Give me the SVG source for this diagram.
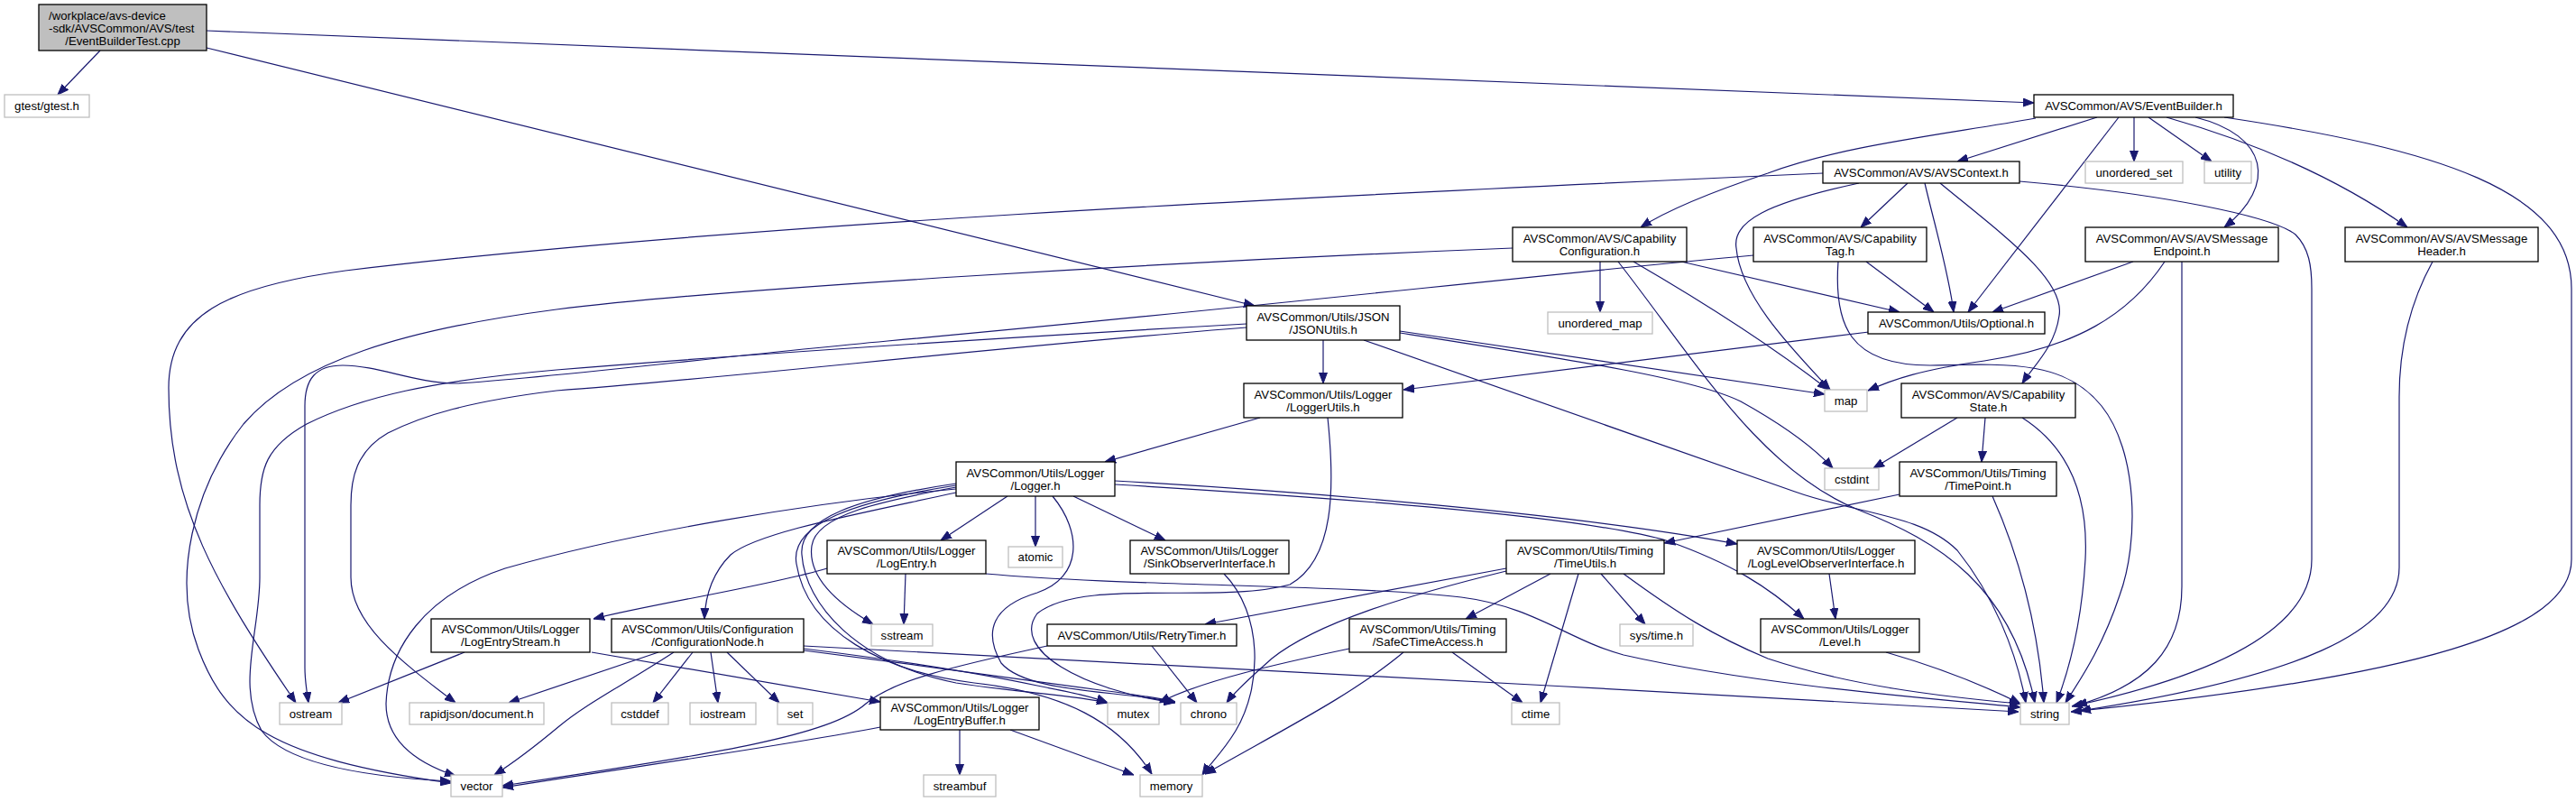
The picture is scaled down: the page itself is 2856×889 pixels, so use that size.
<svg xmlns="http://www.w3.org/2000/svg" width="2856" height="889" viewBox="0 0 2856 889">
<style>
rect{stroke-width:1.3}
.n rect{fill:#fff;stroke:#000}
.s rect{fill:#fff;stroke:#bfbfbf}
.m rect{fill:#bfbfbf;stroke:#000}
text{font-family:"Liberation Sans",Arial,sans-serif;font-size:13.2px;text-anchor:middle;fill:#000}
.l{text-anchor:start}
#edges path{fill:none;stroke:#191970;stroke-width:1.2;marker-end:url(#a)}
</style>
<defs>
<marker id="a" markerUnits="userSpaceOnUse" markerWidth="12" markerHeight="10" viewBox="0 0 12 10" refX="12" refY="5" orient="auto"><path d="M0,0.5 L12,5 L0,9.5 z" fill="#191970" stroke="#191970" stroke-width="1"/></marker>
</defs>
<rect x="0" y="0" width="2856" height="889" fill="#fff"/>
<g id="edges">
<path d="M111,56 L64,105"/>
<path d="M229,34 L2255,114"/>
<path d="M229,53 L1391,339"/>
<path d="M2325,130 L2170,179"/>
<path d="M2257,131 C2150,150 2040,162 1960,192 C1900,212 1850,232 1819,252"/>
<path d="M2349,130 L2182,346"/>
<path d="M2366,130 L2366,179"/>
<path d="M2382,130 L2452,179"/>
<path d="M2434,130 C2515,150 2525,205 2466,252"/>
<path d="M2402,130 Q2560,175 2669,252"/>
<path d="M2466,130 C2700,165 2851,210 2851,320 L2851,620 C2851,700 2680,750 2296,789"/>
<path d="M2021,192 C1400,220 800,250 383,300 C250,318 187,350 187,430 C187,560 240,650 328,779"/>
<path d="M2115,203 L2063,252"/>
<path d="M2134,203 C2145,250 2160,300 2166,346"/>
<path d="M2061,203 C1960,225 1920,245 1925,275 C1930,330 1990,390 2029,432"/>
<path d="M2151,203 C2220,260 2290,310 2283,350 C2278,385 2255,405 2242,425"/>
<path d="M2239,201 C2400,215 2520,240 2545,260 C2560,275 2563,295 2563,320 L2563,620 C2563,700 2450,750 2297,783"/>
<path d="M1774,290 L1774,346"/>
<path d="M1864,290 L2106,346"/>
<path d="M1811,290 C1880,330 1960,380 2027,432"/>
<path d="M1794,290 C1880,400 1950,520 2060,565 C2150,600 2230,650 2256,779"/>
<path d="M1677,275 C1300,290 800,320 617,343 C450,365 330,400 270,470 C215,540 190,640 220,720 C250,800 300,840 500,868"/>
<path d="M2069,290 L2144,346"/>
<path d="M2038,290 C2033,360 2050,405 2140,405 C2230,403 2290,400 2330,450 C2370,500 2372,600 2350,660 C2330,720 2305,755 2290,779"/>
<path d="M1944,283 C1700,305 1400,340 984,378 C800,395 600,420 507,425 C460,425 420,405 380,405 C350,405 338,420 338,450 L338,740 C338,755 340,765 342,779"/>
<path d="M2365,290 L2209,346"/>
<path d="M2400,290 C2360,350 2300,385 2200,400 C2130,410 2100,420 2071,433"/>
<path d="M2419,290 L2419,650 C2419,720 2380,760 2302,782"/>
<path d="M2697,290 C2675,330 2660,380 2660,440 L2660,629 C2660,700 2550,750 2306,788"/>
<path d="M1467,377 L1467,425"/>
<path d="M1552,367 L2023,437"/>
<path d="M1552,369 C1750,400 1880,420 1930,445 C1975,470 2010,495 2032,519"/>
<path d="M1512,377 L1990,545 C2060,570 2130,570 2170,610 C2210,660 2235,720 2246,779"/>
<path d="M1382,359 C1100,375 800,395 617,410 C480,422 400,440 340,470 C295,495 288,520 288,560 L288,640 C288,700 262,760 290,810 C320,850 420,862 500,866"/>
<path d="M1382,363 C1100,385 800,420 617,433 C520,445 470,460 430,480 C395,500 389,530 389,560 L389,640 C389,690 440,730 505,779"/>
<path d="M2072,368 L1556,432"/>
<path d="M2170,463 L2077,519"/>
<path d="M2201,463 L2197,512"/>
<path d="M2242,463 C2300,500 2315,560 2312,620 C2308,690 2295,740 2280,779"/>
<path d="M2106,548 L1845,602"/>
<path d="M2209,550 C2240,620 2260,700 2266,779"/>
<path d="M1397,463 L1225,512"/>
<path d="M1472,463 C1480,540 1480,620 1430,648 C1350,670 1200,640 1150,680 C1120,720 1200,765 1302,779"/>
<path d="M1117,550 L1043,599"/>
<path d="M1148,550 L1148,606"/>
<path d="M1190,550 L1292,599"/>
<path d="M1060,540 C980,555 905,570 900,605 C895,640 930,670 968,692"/>
<path d="M1060,536 C950,552 885,575 889,615 C893,670 950,735 1060,757 C1130,768 1190,770 1228,779"/>
<path d="M1060,538 C950,555 875,580 883,625 C895,700 980,745 1080,757 C1180,768 1240,800 1277,858"/>
<path d="M1167,550 C1200,590 1200,640 1150,657 C1100,672 1090,700 1110,735 C1140,770 1250,765 1303,779"/>
<path d="M1060,542 C900,557 700,590 560,630 C470,660 430,720 428,780 C428,820 460,845 505,860"/>
<path d="M1060,546 C950,570 840,590 810,615 C790,635 782,660 781,686"/>
<path d="M1236,533 C1450,545 1750,570 1926,603"/>
<path d="M1236,537 C1450,550 1750,570 1850,600 C1920,625 1960,650 2000,686"/>
<path d="M917,630 C850,650 720,670 658,686"/>
<path d="M1004,636 L1002,692"/>
<path d="M1093,636 C1250,650 1500,648 1620,662 C1700,672 1740,710 1800,726 C1950,760 2150,775 2240,784"/>
<path d="M1357,636 C1400,680 1400,760 1370,810 C1355,835 1340,848 1333,859"/>
<path d="M1670,630 L1336,692"/>
<path d="M1719,636 L1625,686"/>
<path d="M1750,636 L1708,779"/>
<path d="M1775,636 L1824,692"/>
<path d="M1800,636 C1860,680 1900,705 1960,730 C2050,760 2150,772 2240,780"/>
<path d="M1670,633 C1560,660 1460,690 1410,730 C1390,748 1370,765 1360,779"/>
<path d="M2028,636 L2035,686"/>
<path d="M2091,723 C2150,740 2200,760 2240,780"/>
<path d="M515,723 L375,779"/>
<path d="M656,723 L976,778"/>
<path d="M730,723 L564,779"/>
<path d="M747,723 C690,760 650,780 620,805 C590,830 570,845 548,859"/>
<path d="M768,723 L724,779"/>
<path d="M788,723 L796,779"/>
<path d="M806,723 L864,779"/>
<path d="M891,719 C980,730 1080,745 1150,760 C1190,768 1210,772 1228,779"/>
<path d="M891,721 C1000,735 1150,755 1220,765 C1260,770 1285,774 1303,778"/>
<path d="M891,716 C1200,730 1800,765 2238,789"/>
<path d="M1277,716 L1327,779"/>
<path d="M1161,716 C1050,740 990,755 960,780 C920,815 800,835 557,871"/>
<path d="M976,806 C850,830 700,850 557,873"/>
<path d="M1064,809 L1064,859"/>
<path d="M1120,809 L1257,859"/>
<path d="M1610,723 L1688,779"/>
<path d="M1556,723 C1500,770 1420,810 1336,858"/>
<path d="M1496,719 C1420,735 1330,755 1285,779"/>
</g>
<g id="n0" class="m"><rect x="43" y="5" width="186" height="51"/><text class="l" x="54" y="21.5">/workplace/avs-device</text><text class="l" x="54" y="35.5">-sdk/AVSCommon/AVS/test</text><text x="136" y="49.5">/EventBuilderTest.cpp</text></g>
<g id="n1" class="s"><rect x="5" y="105" width="94" height="25"/><text x="52" y="122.1">gtest/gtest.h</text></g>
<g id="n2" class="n"><rect x="2255" y="105" width="221" height="25"/><text x="2365.5" y="122.1">AVSCommon/AVS/EventBuilder.h</text></g>
<g id="n3" class="n"><rect x="2021" y="179" width="218" height="24"/><text x="2130" y="195.6">AVSCommon/AVS/AVSContext.h</text></g>
<g id="n4" class="s"><rect x="2312" y="179" width="108" height="24"/><text x="2366" y="195.6">unordered_set</text></g>
<g id="n5" class="s"><rect x="2444" y="179" width="52" height="24"/><text x="2470" y="195.6">utility</text></g>
<g id="n6" class="n"><rect x="1677" y="252" width="193" height="38"/><text x="1773.5" y="268.6">AVSCommon/AVS/Capability</text><text x="1773.5" y="282.6">Configuration.h</text></g>
<g id="n7" class="n"><rect x="1944" y="252" width="192" height="38"/><text x="2040" y="268.6">AVSCommon/AVS/Capability</text><text x="2040" y="282.6">Tag.h</text></g>
<g id="n8" class="n"><rect x="2312" y="252" width="214" height="38"/><text x="2419" y="268.6">AVSCommon/AVS/AVSMessage</text><text x="2419" y="282.6">Endpoint.h</text></g>
<g id="n9" class="n"><rect x="2600" y="252" width="214" height="38"/><text x="2707" y="268.6">AVSCommon/AVS/AVSMessage</text><text x="2707" y="282.6">Header.h</text></g>
<g id="n10" class="s"><rect x="1716" y="346" width="116" height="24"/><text x="1774" y="362.6">unordered_map</text></g>
<g id="n11" class="n"><rect x="2071" y="346" width="196" height="24"/><text x="2169" y="362.6">AVSCommon/Utils/Optional.h</text></g>
<g id="n12" class="n"><rect x="1382" y="339" width="170" height="38"/><text x="1467" y="355.6">AVSCommon/Utils/JSON</text><text x="1467" y="369.6">/JSONUtils.h</text></g>
<g id="n13" class="s"><rect x="2023" y="432" width="47" height="24"/><text x="2046.5" y="448.6">map</text></g>
<g id="n14" class="n"><rect x="2108" y="425" width="193" height="38"/><text x="2204.5" y="441.6">AVSCommon/AVS/Capability</text><text x="2204.5" y="455.6">State.h</text></g>
<g id="n15" class="n"><rect x="1379" y="425" width="176" height="38"/><text x="1467" y="441.6">AVSCommon/Utils/Logger</text><text x="1467" y="455.6">/LoggerUtils.h</text></g>
<g id="n16" class="s"><rect x="2023" y="519" width="60" height="24"/><text x="2053" y="535.6">cstdint</text></g>
<g id="n17" class="n"><rect x="2106" y="512" width="174" height="38"/><text x="2193" y="528.6">AVSCommon/Utils/Timing</text><text x="2193" y="542.6">/TimePoint.h</text></g>
<g id="n18" class="n"><rect x="1060" y="512" width="176" height="38"/><text x="1148" y="528.6">AVSCommon/Utils/Logger</text><text x="1148" y="542.6">/Logger.h</text></g>
<g id="n19" class="n"><rect x="917" y="599" width="176" height="37"/><text x="1005" y="615.1">AVSCommon/Utils/Logger</text><text x="1005" y="629.1">/LogEntry.h</text></g>
<g id="n20" class="s"><rect x="1118" y="606" width="60" height="23"/><text x="1148" y="622.1">atomic</text></g>
<g id="n21" class="n"><rect x="1253" y="599" width="176" height="37"/><text x="1341" y="615.1">AVSCommon/Utils/Logger</text><text x="1341" y="629.1">/SinkObserverInterface.h</text></g>
<g id="n22" class="n"><rect x="1670" y="599" width="175" height="37"/><text x="1757.5" y="615.1">AVSCommon/Utils/Timing</text><text x="1757.5" y="629.1">/TimeUtils.h</text></g>
<g id="n23" class="n"><rect x="1926" y="599" width="197" height="37"/><text x="2024.5" y="615.1">AVSCommon/Utils/Logger</text><text x="2024.5" y="629.1">/LogLevelObserverInterface.h</text></g>
<g id="n24" class="n"><rect x="478" y="686" width="176" height="37"/><text x="566" y="702.1">AVSCommon/Utils/Logger</text><text x="566" y="716.1">/LogEntryStream.h</text></g>
<g id="n25" class="n"><rect x="678" y="686" width="213" height="37"/><text x="784.5" y="702.1">AVSCommon/Utils/Configuration</text><text x="784.5" y="716.1">/ConfigurationNode.h</text></g>
<g id="n26" class="s"><rect x="966" y="692" width="68" height="24"/><text x="1000" y="708.6">sstream</text></g>
<g id="n27" class="n"><rect x="1161" y="692" width="210" height="24"/><text x="1266" y="708.6">AVSCommon/Utils/RetryTimer.h</text></g>
<g id="n28" class="n"><rect x="1496" y="686" width="174" height="37"/><text x="1583" y="702.1">AVSCommon/Utils/Timing</text><text x="1583" y="716.1">/SafeCTimeAccess.h</text></g>
<g id="n29" class="s"><rect x="1796" y="692" width="81" height="24"/><text x="1836.5" y="708.6">sys/time.h</text></g>
<g id="n30" class="n"><rect x="1952" y="686" width="176" height="37"/><text x="2040" y="702.1">AVSCommon/Utils/Logger</text><text x="2040" y="716.1">/Level.h</text></g>
<g id="n31" class="s"><rect x="310" y="779" width="69" height="24"/><text x="344.5" y="795.6">ostream</text></g>
<g id="n32" class="s"><rect x="454" y="779" width="149" height="24"/><text x="528.5" y="795.6">rapidjson/document.h</text></g>
<g id="n33" class="s"><rect x="678" y="779" width="63" height="24"/><text x="709.5" y="795.6">cstddef</text></g>
<g id="n34" class="s"><rect x="765" y="779" width="73" height="24"/><text x="801.5" y="795.6">iostream</text></g>
<g id="n35" class="s"><rect x="862" y="779" width="39" height="24"/><text x="881.5" y="795.6">set</text></g>
<g id="n36" class="n"><rect x="976" y="773" width="176" height="36"/><text x="1064" y="788.6">AVSCommon/Utils/Logger</text><text x="1064" y="802.6">/LogEntryBuffer.h</text></g>
<g id="n37" class="s"><rect x="1228" y="779" width="57" height="24"/><text x="1256.5" y="795.6">mutex</text></g>
<g id="n38" class="s"><rect x="1309" y="779" width="62" height="24"/><text x="1340" y="795.6">chrono</text></g>
<g id="n39" class="s"><rect x="1676" y="779" width="53" height="24"/><text x="1702.5" y="795.6">ctime</text></g>
<g id="n40" class="s"><rect x="2240" y="779" width="54" height="24"/><text x="2267" y="795.6">string</text></g>
<g id="n41" class="s"><rect x="500" y="859" width="57" height="24"/><text x="528.5" y="875.6">vector</text></g>
<g id="n42" class="s"><rect x="1024" y="859" width="80" height="24"/><text x="1064" y="875.6">streambuf</text></g>
<g id="n43" class="s"><rect x="1264" y="859" width="69" height="24"/><text x="1298.5" y="875.6">memory</text></g>
</svg>
